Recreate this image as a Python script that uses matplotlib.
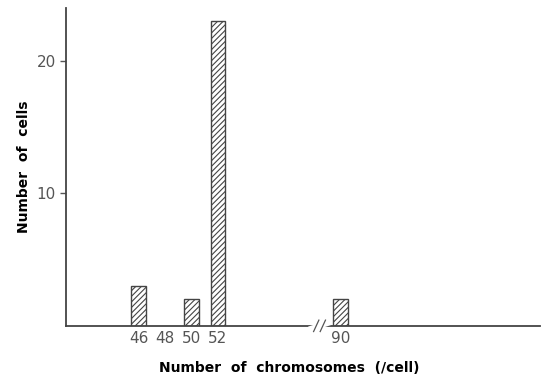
import numpy as np
import matplotlib.pyplot as plt
import matplotlib.transforms as mtransforms

# chromosome counts and how many cells had them
chromosomes = [46, 50, 52, 90]
cells = [3, 2, 23, 2]
tick_values = [46, 48, 50, 52, 90]

# values above the break are pulled left so 90 sits just past it
break_at = 52
shift = 28.7

def to_pos(v):
    v = np.asarray(v, dtype=float)
    return np.where(v > break_at, v - shift, v)

plt.rcParams["font.family"] = ["Liberation Sans Narrow", "DejaVu Sans Condensed", "DejaVu Sans"]
plt.rcParams["hatch.linewidth"] = 0.8

fig = plt.figure(figsize=(5.46, 3.78), dpi=100)
ax = fig.add_axes([0.121, 0.138, 0.868, 0.841])

ax.bar(to_pos(chromosomes), cells, width=1.1, color="white",
       edgecolor="#444444", hatch="//////", linewidth=1.0)

ax.set_xlim(40.5, 76.4)
ax.set_ylim(0, 24)

ax.set_xticks(to_pos(tick_values))
ax.set_xticklabels([str(t) for t in tick_values])
ax.set_yticks([10, 20])
ax.tick_params(axis="x", length=0, pad=4, labelsize=11, colors="#555555")
ax.tick_params(axis="y", length=4, width=1, labelsize=11, colors="#555555")

for s in ["top", "right"]:
    ax.spines[s].set_visible(False)
for s in ["left", "bottom"]:
    ax.spines[s].set_color("#444444")
    ax.spines[s].set_linewidth(1.3)

# axis break mark
xb = 59.7
trans = mtransforms.blended_transform_factory(ax.transData, ax.transAxes)
ax.plot([xb - 0.6, xb + 0.6], [-0.008, 0.008], "w-", lw=4, transform=trans, clip_on=False, zorder=5)
for dx in (-0.25, 0.25):
    ax.plot([xb + dx - 0.2, xb + dx + 0.2], [-0.018, 0.018], color="#555555", lw=0.9,
            transform=trans, clip_on=False, zorder=6)

ax.set_xlabel("Number  of  chromosomes  (/cell)", fontsize=10, fontweight="bold",
              family=["DejaVu Sans"])
ax.set_ylabel("Number  of  cells", fontsize=10, fontweight="bold",
              family=["DejaVu Sans"])
ax.xaxis.set_label_coords(0.47, -0.11)
ax.yaxis.set_label_coords(-0.075, 0.5)

fig.savefig("out.png", dpi=100)
